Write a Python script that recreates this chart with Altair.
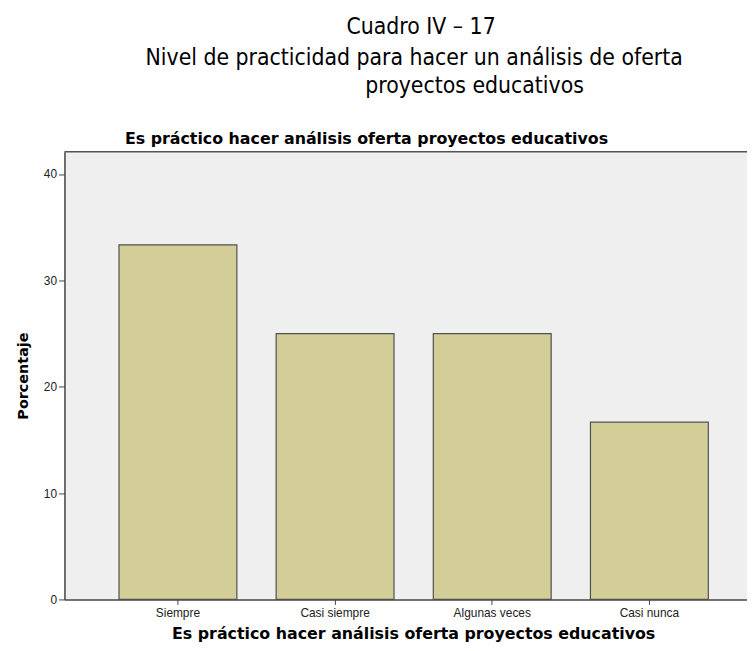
import altair as alt
import pandas as pd

categories = ["Siempre", "Casi siempre", "Algunas veces", "Casi nunca"]
percent = [33.33, 25.0, 25.0, 16.67]
y_ticks = [0, 10, 20, 30, 40]

title_lines = [
    "Cuadro  IV – 17",
    "Nivel de practicidad para hacer un análisis de oferta",
    "proyectos educativos",
]
chart_title = "Es práctico hacer análisis oferta proyectos educativos"
x_title = "Es práctico hacer análisis oferta proyectos educativos"
y_title = "Porcentaje"

df = pd.DataFrame({"cat": categories, "pct": percent})

W, H = 689, 452

bars = alt.Chart(df).mark_bar(
    fill="#D3CE98", stroke="#505050", strokeWidth=1.2
).encode(
    x=alt.X(
        "cat:N",
        sort=categories,
        scale=alt.Scale(range=[0, 705], paddingInner=0.25, paddingOuter=0.347),
        axis=alt.Axis(
            title=x_title,
            labelAngle=0,
            labelFont="Liberation Sans",
            labelFontSize=12,
            labelColor="#222222",
            labelPadding=3,
            tickSize=5,
            tickColor="#444444",
            domainColor="#444444",
            domainWidth=1.5,
            titleFont="DejaVu Sans",
            titleFontSize=16,
            titleFontWeight="bold",
            titleColor="#000000",
            titleX=352,
            titleY=39,
            titleAlign="center",
            titleBaseline="alphabetic",
        ),
    ),
    y=alt.Y(
        "pct:Q",
        scale=alt.Scale(domain=[0, 42.1], nice=False),
        axis=alt.Axis(
            title=y_title,
            values=y_ticks,
            grid=False,
            labelFont="Liberation Sans",
            labelFontSize=12,
            labelColor="#222222",
            labelPadding=2,
            tickSize=6,
            tickColor="#444444",
            domainColor="#444444",
            domainWidth=1.5,
            titleFont="DejaVu Sans",
            titleFontSize=14.5,
            titleFontWeight="bold",
            titleColor="#000000",
            titlePadding=13,
        ),
    ),
)

top_rule = alt.Chart(alt.Data(values=[{}])).mark_rule(
    color="#555555", strokeWidth=1.5
).encode(x=alt.value(0), x2=alt.value(W), y=alt.value(0))

def txt(s, x, y, size, font, weight="normal", align="center"):
    return alt.Chart(alt.Data(values=[{}])).mark_text(
        text=s, font=font, fontSize=size, fontWeight=weight,
        align=align, baseline="alphabetic", color="#000000"
    ).encode(x=alt.value(x), y=alt.value(y))

narrow = "DejaVu Sans Condensed, Roboto, sans-serif"
t1 = txt(title_lines[0], 360, -119, 23, narrow)
t2 = txt(title_lines[1], 353, -88, 23, narrow)
t3 = txt(title_lines[2], 414, -59, 23, narrow)
t4 = txt(chart_title, 61, -8, 16, "DejaVu Sans", "bold", "left")

chart = alt.layer(bars, top_rule, t1, t2, t3, t4).properties(
    width=W,
    height=H,
    autosize=alt.AutoSizeParams(type="none"),
    padding={"left": 57, "top": 142, "right": 0, "bottom": 48},
    background="white",
).configure_view(stroke=None, fill="#EFEFEF")

chart.save("out.html", embed_options={"renderer": "svg", "actions": False})
